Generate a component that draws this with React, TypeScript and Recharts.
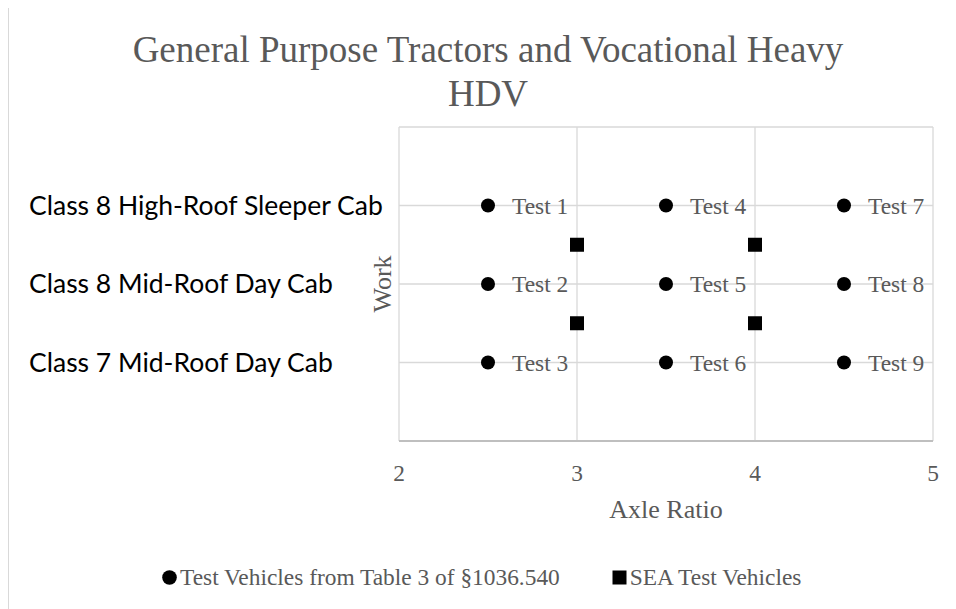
import { ScatterChart, Scatter, XAxis, YAxis, CartesianGrid, Legend, LabelList } from 'recharts';

const testNames = ['Test 1', 'Test 2', 'Test 3', 'Test 4', 'Test 5', 'Test 6', 'Test 7', 'Test 8', 'Test 9'];
const testAxle = [2.5, 2.5, 2.5, 3.5, 3.5, 3.5, 4.5, 4.5, 4.5];
const testWork = [3, 2, 1, 3, 2, 1, 3, 2, 1];

const seaAxle = [3, 4, 3, 4];
const seaWork = [2.5, 2.5, 1.5, 1.5];

const axleTicks = [2, 3, 4, 5];
const workTicks = [0, 1, 2, 3, 4];
const workLabels = ['', 'Class 7 Mid-Roof Day Cab', 'Class 8 Mid-Roof Day Cab', 'Class 8 High-Roof Sleeper Cab', ''];
const titleLines = ['General Purpose Tractors and Vocational Heavy', 'HDV'];

const SERIF = '"Liberation Serif", "Times New Roman", serif';
const SANS = 'Lato, "Noto Sans", sans-serif';
const GREY = '#595959';

const testData = testNames.map((name, i) => ({ axle: testAxle[i], work: testWork[i], name }));
const seaData = seaAxle.map((a, i) => ({ axle: a, work: seaWork[i] }));

const Dot = (props: any) => <circle cx={props.cx} cy={props.cy} r={7} fill="#000" />;
const Square = (props: any) => (
  <rect x={props.cx - 7} y={props.cy - 7} width={14} height={14} fill="#000" />
);

const TestLabel = (props: any) => {
  const vb = props.viewBox || props;
  const cx = vb.x + (vb.width || 0) / 2;
  const cy = vb.y + (vb.height || 0) / 2;
  return (
    <text x={cx + 24} y={cy} dy="0.35em" fontFamily={SERIF} fontSize={23.4} fill={GREY}>
      {props.value}
    </text>
  );
};

const XTick = (props: any) => (
  <text x={props.x} y={props.y + 32} dy="0.35em" textAnchor="middle" fontFamily={SERIF} fontSize={23.4} fill={GREY}>
    {props.payload.value}
  </text>
);

const YTick = (props: any) => (
  <text x={21} y={props.y} dy="0.35em" textAnchor="start" fontFamily={SANS} fontSize={26.5} fill="#000">
    {workLabels[workTicks.indexOf(props.payload.value)]}
  </text>
);

// circle series first, like the original legend
const renderLegend = (props: any) => {
  const items = [...(props.payload || [])].sort((a: any, b: any) => (a.type === 'circle' ? -1 : 0) - (b.type === 'circle' ? -1 : 0));
  return (
    <div style={{ display: 'flex', alignItems: 'center', fontFamily: SERIF, fontSize: 23.4, color: GREY, whiteSpace: 'nowrap' }}>
      {items.map((p: any, i: number) => (
        <span key={i} style={{ display: 'flex', alignItems: 'center', marginRight: i === 0 ? 52 : 0 }}>
          <svg width={15} height={15}>
            {p.type === 'circle'
              ? <circle cx={7.5} cy={7.5} r={7.3} fill="#000" />
              : <rect x={0.5} y={0.5} width={14} height={14} fill="#000" />}
          </svg>
          <span style={{ marginLeft: 3 }}>{p.value}</span>
        </span>
      ))}
    </div>
  );
};

export default function App() {
  return (
    <div style={{ position: 'relative', width: 960, height: 601 }}>
      <style>{'body{overflow:hidden}'}</style>
      <div style={{ position: 'absolute', left: 0, top: -1, width: 960, height: 620, borderTop: '1px solid #d9d9d9', borderLeft: '1px solid #d9d9d9' }} />
      <svg width={960} height={110} style={{ position: 'absolute', left: 0, top: 0 }}>
        <text x={480} y={54} textAnchor="middle" fontFamily={SERIF} fontSize={37} fill={GREY}>{titleLines[0]}</text>
        <text x={480} y={98} textAnchor="middle" fontFamily={SERIF} fontSize={37} fill={GREY}>{titleLines[1]}</text>
      </svg>
      <ScatterChart width={960} height={601} margin={{ top: 119, right: 35, bottom: 0, left: 0 }}>
        <CartesianGrid stroke="#d9d9d9" strokeWidth={1.3} />
        <XAxis
          type="number"
          dataKey="axle"
          domain={[2, 5]}
          ticks={axleTicks}
          height={168}
          tickSize={0}
          tickMargin={0}
          tickLine={false}
          axisLine={{ stroke: '#bfbfbf', strokeWidth: 2 }}
          tick={XTick}
          label={(p: any) => {
            const vb = p.viewBox;
            return (
              <text x={vb.x + vb.width / 2} y={501} dy="0.35em" textAnchor="middle" fontFamily={SERIF} fontSize={26} fill={GREY}>
                Axle Ratio
              </text>
            );
          }}
        />
        <YAxis
          type="number"
          dataKey="work"
          domain={[0, 4]}
          ticks={workTicks}
          width={391}
          tickSize={0}
          tickLine={false}
          axisLine={false}
          tick={YTick}
          label={(p: any) => {
            const vb = p.viewBox;
            const cx = vb.x + vb.width - 17;
            const cy = vb.y + vb.height / 2;
            return (
              <text x={cx} y={cy} dy="0.35em" textAnchor="middle" transform={`rotate(-90 ${cx} ${cy})`} fontFamily={SERIF} fontSize={26} fill={GREY}>
                Work
              </text>
            );
          }}
        />
        <Legend
          layout="horizontal"
          verticalAlign="middle"
          align="center"
          content={renderLegend}
          wrapperStyle={{ left: 154, top: 556, width: 'auto' }}
        />
        <Scatter
          name="Test Vehicles from Table 3 of §1036.540"
          data={testData}
          fill="#000"
          legendType="circle"
          shape={Dot}
          isAnimationActive={false}
        >
          <LabelList dataKey="name" content={TestLabel} />
        </Scatter>
        <Scatter
          name="SEA Test Vehicles"
          data={seaData}
          fill="#000"
          legendType="square"
          shape={Square}
          isAnimationActive={false}
        />
      </ScatterChart>
    </div>
  );
}
